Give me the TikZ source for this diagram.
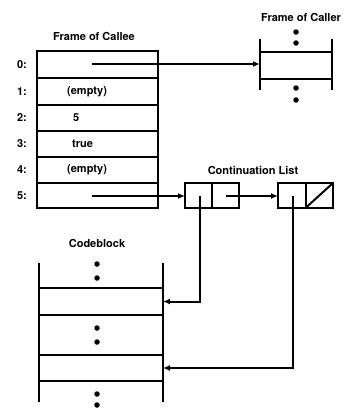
\documentclass[tikz,border=0pt]{standalone}
\usepackage{fontspec}
\setmainfont{TeX Gyre Heros}
\usetikzlibrary{arrows.meta,calc}
\tikzset{
  lbl/.style={font=\fontsize{11}{13}\selectfont\bfseries, inner sep=0pt},
  slot/.style={draw, line width=2pt, inner sep=0pt, outer sep=0pt, rectangle},
  wall/.style={line width=2pt},
  ptr/.style={line width=2pt, -{Latex[length=7pt,width=6pt]}},
  dot/.style={circle, fill, inner sep=0pt, minimum size=5.5pt},
}
\begin{document}
\begin{tikzpicture}[x=1pt,y=-1pt]
\useasboundingbox (0,0) rectangle (359,410);
% Frame of Callee
\node[lbl] (tcallee) at (94,36) {Frame of Callee};
\foreach \i/\t/\b in {0/51/78,1/78/105,2/105/131,3/131/157,4/157/183,5/183/208}{
  \node[slot, minimum width=121pt, minimum height={(\b-\t)*1pt}] (r\i) at (97.5,{(\t+\b)/2}) {};
  \node[lbl] (n\i) at (22,{(\t+\b)/2}) {\i:};
}
\node[lbl, anchor=west] (v1) at (67,91.5) {(empty)};
\node[lbl, anchor=west] (v2) at (73,118) {5};
\node[lbl, anchor=west] (v3) at (72,144) {true};
\node[lbl, anchor=west] (v4) at (67,170) {(empty)};
% Frame of Caller
\node[lbl] (tcaller) at (301,17) {Frame of Caller};
\node[slot, minimum width=72pt, minimum height=27pt] (cs) at (296,65.5) {};
\draw[wall] ($(cs.north west)+(0,-13)$) -- ($(cs.south west)+(0,11)$);
\draw[wall] ($(cs.north east)+(0,-13)$) -- ($(cs.south east)+(0,11)$);
\node[dot] (cd1) at (296,32) {};
\node[dot] (cd2) at (296,43) {};
\node[dot] (cd3) at (296,88) {};
\node[dot] (cd4) at (296,100) {};
% Continuation list
\node[lbl] (tcont) at (253,170) {Continuation List};
\node[slot, minimum width=54pt, minimum height=25pt] (k1) at (212,195.5) {};
\node[slot, minimum width=55pt, minimum height=25pt] (k2) at (305.5,195.5) {};
\draw[wall] (k1.north) -- (k1.south);
\draw[wall] (k2.north) -- (k2.south);
\draw[wall] (k2.south) -- (k2.north east);
\coordinate (k1a) at (200,196);
\coordinate (k1d) at (226,196);
\coordinate (k2a) at (293,196);
% Codeblock
\node[lbl] (tcode) at (97,243) {Codeblock};
\node[slot, minimum width=124pt, minimum height=27pt] (c1) at (101,301.5) {};
\node[slot, minimum width=124pt, minimum height=26pt] (c2) at (101,368) {};
\draw[wall] (39,263) -- (39,402);
\draw[wall] (163,263) -- (163,402);
\node[dot] (bd1) at (97,264) {};
\node[dot] (bd2) at (97,278) {};
\node[dot] (bd3) at (97,328) {};
\node[dot] (bd4) at (97,342) {};
\node[dot] (bd5) at (97,394) {};
\node[dot] (bd6) at (97,405) {};
% pointers
\coordinate (p0) at (92,64);
\coordinate (p5) at (92,196);
\draw[ptr] (p0) -- (cs.west |- p0);
\draw[ptr] (p5) -- (k1.west |- p5);
\draw[ptr] (k1d) -- (k2.west |- k1d);
\draw[ptr] (k1a) |- (c1.east);
\draw[ptr] (k2a) |- (c2.east);
\end{tikzpicture}
\end{document}
